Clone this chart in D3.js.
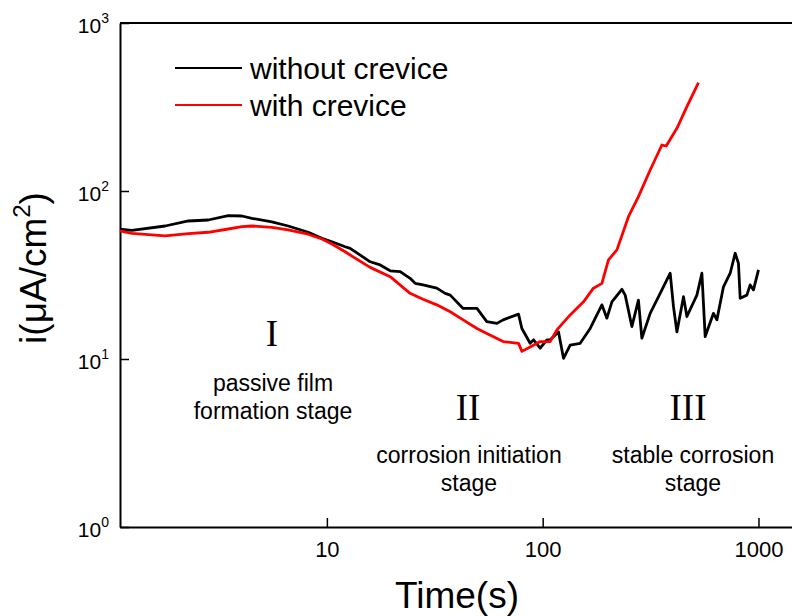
<!DOCTYPE html>
<html>
<head>
<meta charset="utf-8">
<script src="https://cdn.jsdelivr.net/npm/d3@7"></script>
<style>
  body { margin: 0; background: #fff; }
  text { font-family: Arial, "Liberation Sans", sans-serif; fill: #000; }
</style>
</head>
<body>
<script>
// time (s) and current density (uA/cm2)
var timeNoCrevice = [1.10, 1.25, 1.78, 2.28, 2.82, 3.49, 4.04, 4.49, 5.56, 6.62, 8.19, 9.48, 10.55, 12.15, 12.82,
    15.87, 17.66, 19.65, 21.87, 24.3, 25.66, 27.9, 32.3, 35.33, 37.3, 42.8, 49.6, 55.1, 61.35, 65.6, 77.3, 80.1,
    87.5, 90.7, 97.4, 104.6, 108.3, 118.4, 124.9,
    134.1, 149.2, 166.0, 188.1, 198.4, 209.3, 232.8, 241.2, 259.0, 277.8, 288.1, 314.9, 350.4, 389.8, 403.8,
    418.8, 449.3, 465.9, 518.3, 546.7, 566.3, 618.6, 641.6, 688.3, 739.4, 779.8, 807.7, 822.5, 883.5, 915.1,
    948, 1000];
var iNoCrevice = [59.2, 58.3, 61.9, 66.3, 67.2, 71.3, 71.0, 68.8, 65.4, 61.9, 56.8, 52.3, 49.9, 46.6, 45.6,
    37.9, 36.3, 33.5, 33.1, 30.2, 28.2, 27.6, 26.4, 24.6, 24.0, 20.0, 20.0, 16.7, 16.3, 17.1, 18.5, 15.2,
    12.4, 13.0, 11.6, 13.0, 13.0, 14.5, 10.1,
    12.1, 12.4, 15.2, 21.0, 17.5, 21.9, 26.0, 24.0, 15.6, 22.4, 13.3, 18.7, 24.6, 32.4, 20.5,
    14.5, 23.5, 17.9, 24.0, 32.4, 13.6, 18.7, 17.1, 26.9, 32.4, 42.6, 37.1, 23.0, 24.0, 27.6,
    25.8, 33.9];

var timeCrevice = [1.10, 1.25, 1.78, 2.28, 2.82, 3.49, 4.04, 4.49, 5.56, 6.62, 8.19, 9.48, 10.55, 12.15, 12.82,
    15.87, 19.65, 24.3, 27.9, 32.3, 37.3, 42.8, 49.6, 55.1, 65.6, 77.3, 80.1, 87.5, 97.4, 108.3, 116.4, 134.1,
    154.6, 171.9, 188.1, 201.8, 220.8, 249.8, 277.8, 314.9, 356.8, 373.5, 418.8, 465.9, 527.2];
var iCrevice = [57.8, 56.0, 54.0, 55.7, 56.8, 59.4, 61.3, 61.9, 60.8, 58.6, 55.3, 51.8, 48.4, 43.5, 41.6,
    35.1, 30.9, 24.6, 22.7, 21.0, 19.1, 17.1, 15.2, 14.2, 12.7, 12.4, 11.1, 11.8, 12.7, 12.7, 14.9, 18.3,
    21.9, 26.4, 28.2, 38.9, 44.6, 70.3, 92.5, 133.4, 187.8, 185.3, 236.2, 317.6, 441.2];

var seriesNames = ["without crevice", "with crevice"];
var seriesColors = ["#000000", "#ff0000"];

var xMajor = [10, 100, 1000];
var yMajor = [1, 10, 100, 1000];
var stageNumerals = ["I", "II", "III"];
var stageLines = [["passive film", "formation stage"], ["corrosion initiation", "stage"], ["stable corrosion", "stage"]];

window.onload = function(){
    var w = 792, h = 616;
    var svg = d3.select("body").append("svg")
        .attr("width", w)
        .attr("height", h);

    var left = 120, top = 23, bottom = 527, right = 792;

    var x = d3.scaleLog().domain([1.10, 1430]).range([left, right]);
    var y = d3.scaleLog().domain([1, 1000]).range([bottom, top]);

    // minor tick values for each decade
    var minorX = [], minorY = [];
    [1, 10, 100].forEach(function(d){
        for (var k = 2; k <= 9; k++) {
            if (d * k > 1.1) minorX.push(d * k);
            minorY.push(d * k);
        }
    });

    // top frame line
    svg.append("line")
        .attr("x1", left).attr("x2", right)
        .attr("y1", top).attr("y2", top)
        .attr("stroke", "#000").attr("stroke-width", 2);

    // bottom axis, ticks pointing inside
    var gx = svg.append("g").attr("transform", "translate(0," + bottom + ")");
    gx.call(d3.axisBottom(x).tickValues(minorX).tickSize(-5).tickFormat(""));
    gx.call(d3.axisBottom(x).tickValues(xMajor).tickSizeInner(-9).tickSizeOuter(0).tickPadding(14)
        .tickFormat(d3.format("d")));
    gx.selectAll("path.domain").attr("stroke-width", 2);
    gx.selectAll(".tick line").attr("stroke-width", 1.5);
    gx.selectAll(".tick text").style("font-size", "22px").attr("font-family", null);

    // left axis, ticks pointing inside
    var gy = svg.append("g").attr("transform", "translate(" + left + ",0)");
    gy.call(d3.axisLeft(y).tickValues(minorY).tickSize(-5).tickFormat(""));
    gy.call(d3.axisLeft(y).tickValues(yMajor).tickSizeInner(-9).tickSizeOuter(0).tickFormat(""));
    gy.selectAll("path.domain").attr("stroke-width", 2);
    gy.selectAll(".tick line").attr("stroke-width", 1.5);

    // y labels as 10 with superscript exponents
    var ylab = svg.selectAll(".ylab")
        .data(yMajor)
        .enter()
        .append("text")
        .attr("class", "ylab")
        .attr("text-anchor", "end")
        .attr("x", left - 11)
        .attr("y", function(d){ return y(d) + 10; })
        .style("font-size", "21px");
    ylab.append("tspan").text("10");
    ylab.append("tspan")
        .attr("dy", -10)
        .style("font-size", "14px")
        .text(function(d){ return Math.round(Math.log10(d)); });

    // curves
    var line = d3.line()
        .x(function(d){ return x(d[0]); })
        .y(function(d){ return y(d[1]); });

    var dataNo = d3.zip(timeNoCrevice, iNoCrevice);
    var dataYes = d3.zip(timeCrevice, iCrevice);

    svg.append("path").datum(dataNo)
        .attr("d", line)
        .attr("fill", "none")
        .attr("stroke", seriesColors[0])
        .attr("stroke-width", 2.8)
        .attr("stroke-linejoin", "round");
    svg.append("path").datum(dataYes)
        .attr("d", line)
        .attr("fill", "none")
        .attr("stroke", seriesColors[1])
        .attr("stroke-width", 2.8)
        .attr("stroke-linejoin", "round");

    // legend
    var legend = svg.selectAll(".legend")
        .data(seriesNames)
        .enter()
        .append("g")
        .attr("class", "legend")
        .attr("transform", function(d, i){ return "translate(175," + (68 + i * 37) + ")"; });
    legend.append("line")
        .attr("x1", 0).attr("x2", 67)
        .attr("stroke", function(d, i){ return seriesColors[i]; })
        .attr("stroke-width", 2);
    legend.append("text")
        .attr("x", 75)
        .attr("y", 11)
        .style("font-size", "30px")
        .text(function(d){ return d; });

    // stage annotations
    var stageX = [272, 468, 688];
    var stages = svg.selectAll(".stage")
        .data(stageNumerals)
        .enter()
        .append("g")
        .attr("class", "stage");
    stages.append("text")
        .attr("text-anchor", "middle")
        .attr("x", function(d, i){ return stageX[i]; })
        .attr("y", function(d, i){ return i === 0 ? 346 : 420; })
        .style("font-family", "'Times New Roman', 'Liberation Serif', serif")
        .style("font-size", "37px")
        .text(function(d){ return d; });
    stages.each(function(d, i){
        var g = d3.select(this);
        stageLines[i].forEach(function(s, j){
            g.append("text")
                .attr("text-anchor", "middle")
                .attr("x", stageX[i] + (i === 2 ? 5 : 1))
                .attr("y", (i === 0 ? 391 : 463) + j * 28)
                .style("font-size", "23px")
                .text(s);
        });
    });

    // axis titles
    svg.append("text")
        .attr("text-anchor", "middle")
        .attr("x", 457)
        .attr("y", 608)
        .style("font-size", "37px")
        .text("Time(s)");

    var yt = svg.append("text")
        .attr("text-anchor", "middle")
        .attr("transform", "translate(46,268) rotate(-90)")
        .style("font-size", "37px");
    yt.append("tspan").text("i(\u03bcA/cm");
    yt.append("tspan").attr("dy", -16).style("font-size", "24px").text("2");
    yt.append("tspan").attr("dy", 16).text(")");
};
</script>
</body>
</html>
